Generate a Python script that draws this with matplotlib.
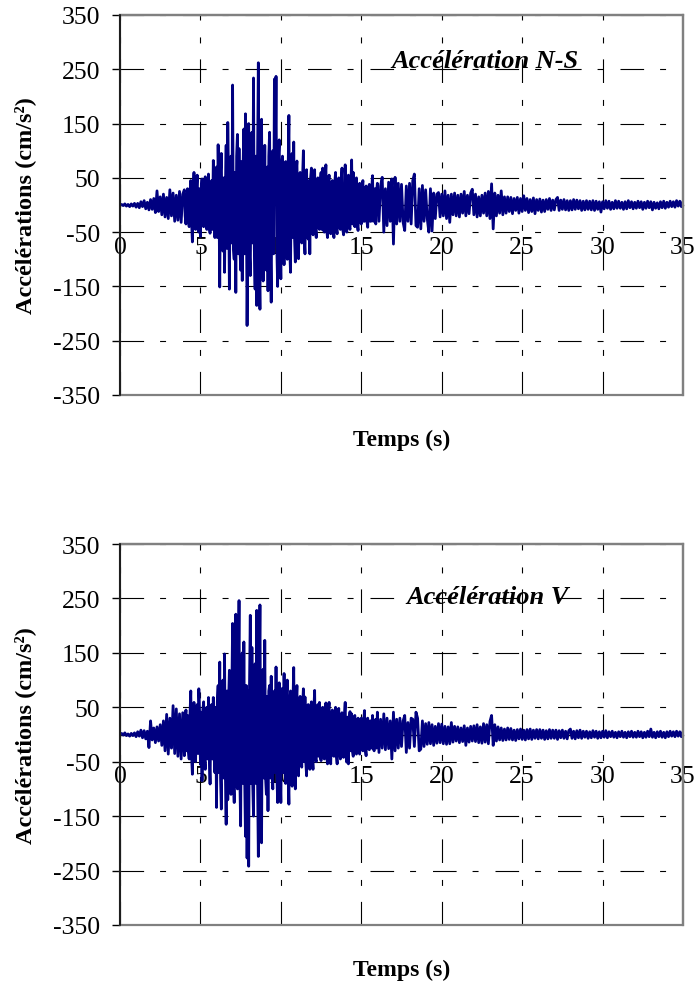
import numpy as np
import matplotlib
matplotlib.use('Agg')
import matplotlib.pyplot as plt
from matplotlib.patches import Rectangle

plt.rcParams['font.family'] = ['Liberation Serif', 'DejaVu Serif']
plt.rcParams['lines.scale_dashes'] = False
plt.rcParams['axes.unicode_minus'] = False

dt = 0.1
acc_ns = [
    0, 1, -1, 2, -2, 1, -3, 2, -2, 3,
    -4, 3, -5, 6, -3, 8, -7, 5, -9, 10,
    -8, 12, -14, 26, -12, 15, -18, 20, -22, 14,
    -25, 28, -20, 22, -30, 18, -28, 25, -32, 20,
    28, -35, 30, -40, 45, -68, 60, -45, 55, -50,
    -58, 48, -40, 52, -45, 57, -52, 45, 82, -60,
    70, 111, -151, 95, -85, -124, 110, 152, -155, 90,
    221, -100, -161, 130, 104, -120, -139, 140, 168, -222,
    150, -130, 134, 234, -155, -185, 262, -192, 158, -140,
    110, -120, -158, 134, -179, 100, 232, 237, -150, 120,
    -136, 90, -110, 80, -100, 165, -124, 95, 116, -105,
    81, -99, 60, -70, 100, -90, 65, -63, -90, 68,
    -55, 65, -60, 50, -45, 60, 68, -50, 74, -60,
    55, -53, 45, -60, 60, -53, 50, -45, 68, -55,
    74, -50, 55, -45, 83, 60, -40, 50, -47, 40,
    -35, 45, -30, 35, -41, 38, -30, 54, -28, -35,
    40, -30, 35, 51, -50, 30, -38, 42, -30, 48,
    -72, 51, -35, 40, -30, 38, -32, -47, 35, -30,
    40, -35, 45, 57, -38, -41, 30, -44, 36, -30,
    28, -25, -50, 30, -48, 22, -25, 20, 23, -22,
    20, -20, 26, -25, 18, -32, 20, -18, 22, -20,
    18, -22, 20, -15, 25, -20, 18, -16, 22, 29,
    -18, 20, -22, 15, -20, 18, -15, 22, -20, 25,
    -25, 39, -44, 22, -20, 18, -15, 26, -18, 15,
    -15, 15, -12, 14, -16, 12, -10, 14, -15, 12,
    -12, 17, -10, 12, -14, 10, -12, 13, -16, 10,
    -10, 11, -13, 9, -12, 10, -8, 12, -10, 9,
    -9, 10, 14, -10, 9, -8, 10, -9, 8, -10,
    8, -9, 10, -8, 9, -7, 8, -10, 7, -9,
    8, -8, 7, -9, 8, -10, 7, -8, 6, -13,
    6, -7, 8, -6, 7, -8, 5, -7, 8, -6,
    7, -6, 5, -8, 6, -7, 8, -5, 6, -7,
    5, -6, 7, -5, 6, -8, 5, -6, 7, -5,
    6, -9, 5, -6, 4, -7, 6, -5, 7, -6,
    5, -4, 7, -3, 6, -4, 8, -2, 7, -3,
    6,
]
# extra samples in the strong-motion part, at 4.05, 4.15, ... 15.95 s
acc_ns_mid = [
    -20, 12, -25, 18, -30, 25, -30, 28, -25, 30,
    30, -35, 40, -30, 35, -40, 30, -45, 40, 45,
    -60, 20, 60, -70, 50, 30, -80, 40, 60, -70,
    -80, 60, 90, -90, -70, 80, 70, -90, 40, -60,
    -90, 80, -70, -80, 90, 80, -100, 90, -90, -60,
    -80, 70, 90, -80, 80, -90, 60, -80, 90, -70,
    70, -70, 60, -70, 60, -80, 70, -60, -60, 60,
    -50, 55, -45, 50, -60, 50, -50, 45, 50, -45,
    45, -45, 40, -40, 40, -45, -45, 45, -45, 40,
    -45, 40, -45, 40, -45, 40, -40, 40, -45, -35,
    -40, 35, -40, 35, -35, -35, 35, -35, 35, -30,
    30, -30, 25, -30, 30, -30, 30, -30, 30, 25,
]
acc_v = [
    0, 2, -1, 3, -2, 1, -3, 2, -2, 3,
    -4, 5, -3, 8, -6, 7, -8, 6, -24, 25,
    -10, 12, -15, 14, -12, 18, -20, 25, -30, 37,
    -36, 30, -25, 53, -35, 47, -40, 38, -45, 40,
    -39, 45, 35, -45, 80, -73, 59, -50, 55, 84,
    -55, -85, 60, -64, 50, 68, -91, 55, 68, -70,
    -134, 90, 133, -137, 100, 148, -165, -120, 118, -110,
    204, -125, 221, -100, 246, -168, 150, 170, -187, -227,
    -242, 219, 160, -150, 130, 228, -224, 238, -199, 120,
    173, -110, -140, 90, 107, -100, 80, 124, -125, 95,
    -125, 85, 112, -90, 100, -128, 80, -95, 123, -100,
    90, -76, 70, -60, 84, 69, -76, 55, -64, 60,
    -64, 81, -50, 55, 59, -48, 50, -45, 58, -54,
    59, -54, 45, -40, 50, -54, 48, -45, 40, -42,
    59, -51, -54, 42, 38, -40, 35, -36, 30, -36,
    30, -30, 44, -39, 30, -28, 25, 35, -30, 28,
    41, -33, 28, -25, 38, -28, 30, -26, 25, -45,
    41, -30, 28, -25, 30, -22, 25, 35, -33, 22,
    -25, 30, 28, -22, 41, 30, -30, -27, 25, -22,
    20, -18, 22, -17, 18, -20, 15, -16, 20, -15,
    19, -17, 15, -18, 14, -17, 22, -14, 15, -12,
    14, -15, 12, -13, 16, -20, 12, -14, 15, -12,
    16, -13, 18, -15, 14, -16, 20, -14, 18, -17,
    24, 35, -20, 18, -12, 14, -10, 12, -11, 10,
    -10, 12, -9, 11, -10, 8, -11, 9, -8, 10,
    -9, 8, -10, 9, -8, 10, -9, 8, -7, 9,
    -8, 9, -7, 8, -9, 7, -8, 9, -7, 8,
    -7, 8, -9, 7, -6, 8, -7, 6, -8, 7,
    10, -7, 6, -8, 7, -6, 8, -7, 6, -5,
    6, -7, 5, -6, 7, -5, 6, -7, 5, -6,
    6, -5, 7, -6, 5, -4, 6, -5, 4, -6,
    5, -4, 6, -5, 4, -6, 5, -4, 6, -5,
    4, -5, 6, -4, 5, -6, 4, -5, 6, -4,
    10, -5, 4, -6, 5, -4, 6, -5, 4, -6,
    5, -4, 6, -3, 5, -4, 6, -3, 5, -4,
    5,
]
acc_v_mid = [
    25, -30, -30, 35, -40, 40, -40, 40, -35, 40,
    40, 45, -45, 45, -45, -40, 45, -45, -40, 50,
    60, -70, -80, 80, -80, -70, 80, 60, -70, 70,
    -80, 90, -90, 90, -80, 90, -90, -80, 90, 80,
    90, -90, -90, 80, -90, -80, 90, -90, 80, -80,
    -80, 70, 80, -80, -70, 70, -70, -70, 70, -70,
    70, -70, -60, 70, -70, 60, -60, 60, -60, 55,
    -55, 50, -50, 50, -50, -50, 45, -50, 45, -45,
    45, -45, 40, -40, -40, 40, -40, 40, -40, 40,
    -40, 38, -38, 35, -38, 35, -35, 35, -35, 35,
    -35, 32, 30, -30, -30, 30, -30, 28, -28, 28,
    -28, 25, -28, 28, -25, 25, -25, -25, 25, -25,
]
mid_start = 4.05

titles = ['Accélération N-S', 'Accélération V']
x_ticks = [0, 5, 10, 15, 20, 25, 30, 35]
y_ticks = [-350, -250, -150, -50, 50, 150, 250, 350]


def merge(main, mid):
    t_main = np.arange(len(main)) * dt
    t_mid = mid_start + np.arange(len(mid)) * dt
    tt = np.concatenate([t_main, t_mid])
    yy = np.concatenate([main, mid])
    order = np.argsort(tt, kind='stable')
    return tt[order], yy[order]


W, H = 698, 987
fig = plt.figure(figsize=(W / 100, H / 100), dpi=100)

# axes boxes in pixels: left, top, right, bottom
boxes = [(120, 16, 683, 396), (120, 545, 683, 926)]
title_pos = [(0.649, 0.879), (0.653, 0.863)]
grid_dash = (0, (17, 11.5, 4.3, 12.2))
series = [merge(acc_ns, acc_ns_mid), merge(acc_v, acc_v_mid)]

for i, (tt, acc) in enumerate(series):
    l, tp, r, b = boxes[i]
    ax = fig.add_axes([l / W, 1 - b / H, (r - l) / W, (b - tp) / H])
    ax.plot(tt, acc, color='#000080', lw=2.0, zorder=2)
    ax.set_xlim(0, 35)
    ax.set_ylim(-350, 350)
    ax.set_xticks(x_ticks)
    ax.set_yticks(y_ticks)
    ax.grid(True, color='black', lw=0.8, linestyle=grid_dash, zorder=0)
    ax.set_axisbelow(True)

    # x axis sits on zero (hidden under the trace), plot frame in grey
    ax.spines['bottom'].set_position(('data', 0))
    ax.spines['bottom'].set_color('black')
    ax.spines['bottom'].set_linewidth(1)
    ax.spines['bottom'].set_zorder(1)
    for s in ['top', 'right']:
        ax.spines[s].set_color('#808080')
        ax.spines[s].set_linewidth(1.6)
    ax.add_patch(Rectangle((0, 0), 1, 1, transform=ax.transAxes, fill=False,
                           edgecolor='#808080', lw=1.6, clip_on=False, zorder=3))
    ax.spines['left'].set_color('black')
    ax.spines['left'].set_linewidth(1.1)
    ax.spines['left'].set_zorder(4)

    ax.tick_params(axis='x', length=0, pad=22, labelsize=18.5)
    ax.tick_params(axis='y', direction='out', length=6, width=1, pad=8, labelsize=18.5)

    ax.text(title_pos[i][0], title_pos[i][1], titles[i], transform=ax.transAxes,
            ha='center', va='center', fontsize=19, fontweight='bold', fontstyle='italic')

    fig.text(25 / W, 1 - ((tp + b) / 2) / H, 'Accélérations (cm/s²)', rotation=90,
             ha='center', va='center', fontsize=17.5, fontweight='bold')
    fig.text(((l + r) / 2) / W, 1 - (b + 44) / H, 'Temps (s)',
             ha='center', va='center', fontsize=17, fontweight='bold')

fig.savefig('out.png', dpi=100)
